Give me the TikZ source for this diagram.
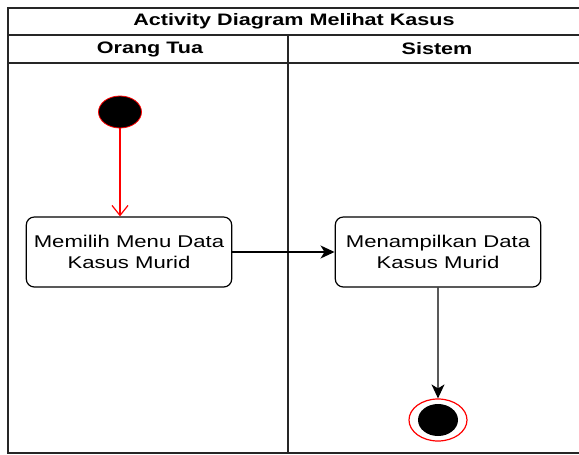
\documentclass[tikz,border=0pt]{standalone}
\usepackage{fontspec}
\setmainfont{Liberation Sans}
\usetikzlibrary{shapes.geometric, arrows.meta}

\begin{document}
\begin{tikzpicture}[x=1pt,y=-1pt]
    \useasboundingbox (0,0) rectangle (579,455);
    \tikzset{
        lane/.style={line width=1.4pt, black!85},
        heading/.style={font=\bfseries\fontsize{16.6}{19}\selectfont, xscale=1.3},
        activity/.style={draw, line width=1.2pt, rounded corners=8pt, align=center,
            minimum width=158pt, minimum height=70pt, xscale=1.3,
            font=\fontsize{17}{21}\selectfont},
        flow/.style={line width=1.2pt, -{Stealth[length=14pt,width=13pt,inset=4pt]}},
    }

    % swimlanes
    \draw[lane] (8,8) rectangle (582,453);
    \draw[lane] (8,35) -- (582,35);
    \draw[lane] (8,63) -- (582,63);
    \draw[lane] (288,35) -- (288,453);

    \node[heading] (judul) at (294,21.5) {Activity Diagram Melihat Kasus};
    \node[heading] (ortu) at (150,49) {Orang Tua};
    \node[heading] (sistem) at (437,49) {Sistem};

    % start and end
    \node[ellipse, draw=red, fill=black, line width=0.8pt,
        minimum width=43pt, minimum height=32pt, inner sep=0pt] (mulai) at (120,112) {};
    \node[ellipse, draw=red, fill=white, line width=1.2pt,
        minimum width=58pt, minimum height=42pt, inner sep=0pt] (selesai) at (438,420) {};
    \fill[black] (selesai.center) ellipse (20 and 16);

    % activities
    \node[activity] (pilih) at (129,252) {Memilih Menu Data\\Kasus Murid};
    \node[activity] (tampil) at (438,252) {Menampilkan Data\\Kasus Murid};

    \draw[red, line width=1.2pt, -{Straight Barb[length=10pt,width=16pt]}]
        (mulai.south) -- (mulai.south |- pilih.north);
    \draw[flow] (pilih) -- (tampil);
    \draw[flow] (tampil) -- (selesai);
\end{tikzpicture}
\end{document}
